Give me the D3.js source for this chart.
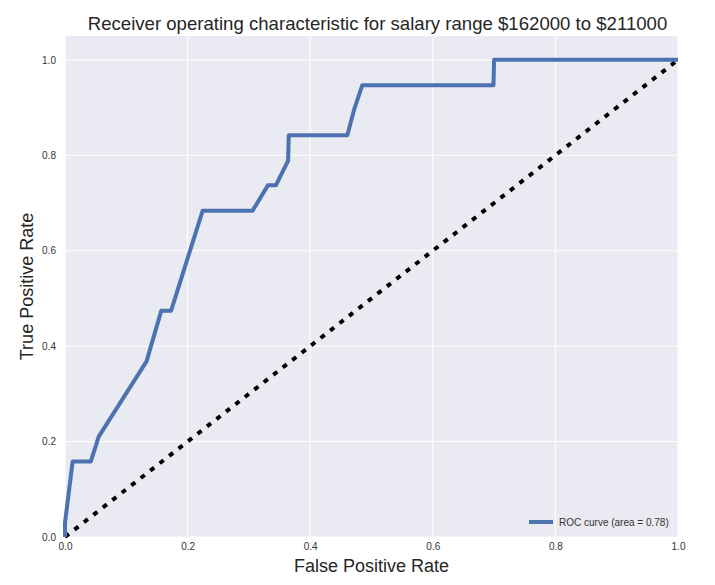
<!DOCTYPE html>
<html>
<head>
<meta charset="utf-8">
<script src="https://cdn.jsdelivr.net/npm/d3@7"></script>
<style>
  body { margin: 0; background: #fff; }
  text { font-family: "Liberation Sans", Arial, sans-serif; }
</style>
</head>
<body>
<div id="chart"></div>
<script>
// ROC curve
const fpr = [0, 0, 0.0125, 0.042, 0.055, 0.133, 0.157, 0.173, 0.2246, 0.306, 0.331, 0.344, 0.364, 0.365, 0.4606, 0.4715, 0.485, 0.699, 0.700, 1.0]
const tpr = [0, 0.03, 0.158, 0.158, 0.2105, 0.368, 0.474, 0.474, 0.684, 0.684, 0.737, 0.737, 0.789, 0.842, 0.842, 0.895, 0.947, 0.947, 1.0, 1.0]
const chanceX = [0, 1]
const chanceY = [0, 1]
const xTicks = [0.0, 0.2, 0.4, 0.6, 0.8, 1.0]
const yTicks = [0.0, 0.2, 0.4, 0.6, 0.8, 1.0]
const legendLabel = "ROC curve (area = 0.78)"

const width = 715, height = 585
const margin = { top: 36, right: 37, bottom: 48, left: 65 }

const svg = d3.select("#chart").append("svg")
    .attr("width", width)
    .attr("height", height)

const x = d3.scaleLinear().domain([0, 1]).range([margin.left, width - margin.right])
const y = d3.scaleLinear().domain([0, 1.05]).range([height - margin.bottom, margin.top])

// plot background
svg.append("rect")
    .attr("x", x(0)).attr("y", y(1.05))
    .attr("width", x(1) - x(0)).attr("height", y(0) - y(1.05))
    .attr("fill", "#EAEAF2")

// grid
svg.append("g").selectAll("line")
    .data(xTicks).enter().append("line")
    .attr("x1", d => x(d)).attr("x2", d => x(d))
    .attr("y1", y(0)).attr("y2", y(1.05))
    .attr("stroke", "#fff").attr("stroke-width", 1)
svg.append("g").selectAll("line")
    .data(yTicks).enter().append("line")
    .attr("x1", x(0)).attr("x2", x(1))
    .attr("y1", d => y(d)).attr("y2", d => y(d))
    .attr("stroke", "#fff").attr("stroke-width", 1)

// axes (labels only, no tick marks)
const xAxis = svg.append("g")
    .attr("transform", `translate(0,${y(0)})`)
    .call(d3.axisBottom(x).tickValues(xTicks).tickFormat(d3.format(".1f")).tickSize(0).tickPadding(6))
const yAxis = svg.append("g")
    .attr("transform", `translate(${x(0)},0)`)
    .call(d3.axisLeft(y).tickValues(yTicks).tickFormat(d3.format(".1f")).tickSize(0).tickPadding(9))
svg.selectAll(".domain").remove()
svg.selectAll(".tick text")
    .attr("fill", "#333")
    .style("font-size", "10px")
    .style("font-family", "Liberation Sans, Arial, sans-serif")

// chance line
const line = d3.line().x(d => x(d[0])).y(d => y(d[1]))
svg.append("path")
    .datum(d3.zip(chanceX, chanceY))
    .attr("d", line)
    .attr("fill", "none")
    .attr("stroke", "#000")
    .attr("stroke-width", 4)
    .attr("stroke-dasharray", "5,7")

// roc curve
svg.append("path")
    .datum(d3.zip(fpr, tpr))
    .attr("d", line)
    .attr("fill", "none")
    .attr("stroke", "#4C72B0")
    .attr("stroke-width", 4)
    .attr("stroke-linejoin", "round")

// legend
const lg = svg.append("g").attr("transform", `translate(529,522)`)
lg.append("line")
    .attr("x1", 0).attr("x2", 24).attr("y1", 0).attr("y2", 0)
    .attr("stroke", "#4C72B0").attr("stroke-width", 4)
lg.append("text")
    .attr("x", 30).attr("y", 3.5)
    .attr("fill", "#333")
    .style("font-size", "10px")
    .text(legendLabel)

// title and axis labels
svg.append("text")
    .attr("x", (x(0) + x(1)) / 2 + 6).attr("y", 30)
    .attr("text-anchor", "middle")
    .attr("fill", "#262626")
    .style("font-size", "18.6px")
    .text("Receiver operating characteristic for salary range $162000 to $211000")
svg.append("text")
    .attr("x", (x(0) + x(1)) / 2).attr("y", 572)
    .attr("text-anchor", "middle")
    .attr("fill", "#262626")
    .style("font-size", "18px")
    .text("False Positive Rate")
svg.append("text")
    .attr("transform", `translate(33,${(y(0) + y(1.05)) / 2}) rotate(-90)`)
    .attr("text-anchor", "middle")
    .attr("fill", "#262626")
    .style("font-size", "18px")
    .text("True Positive Rate")
</script>
</body>
</html>
